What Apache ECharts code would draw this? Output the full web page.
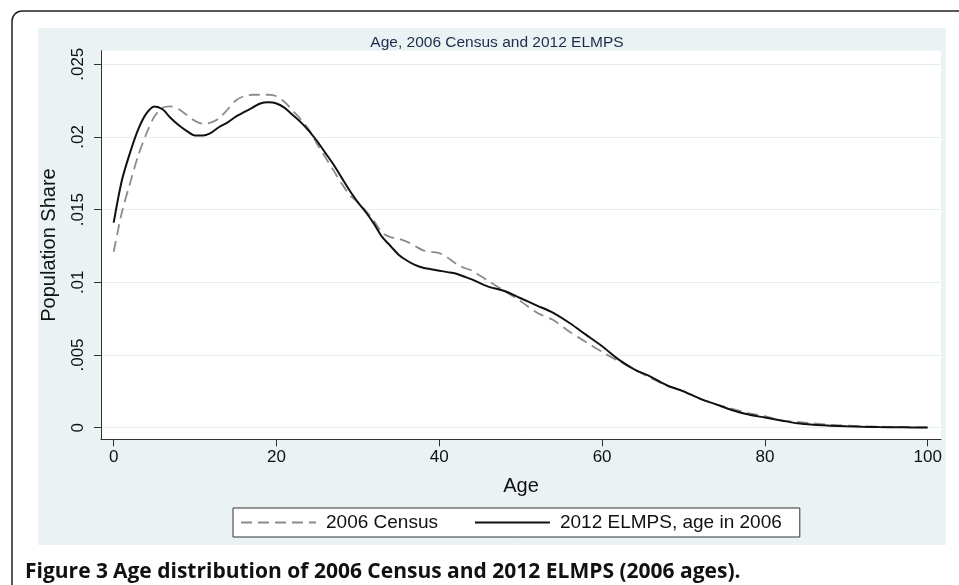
<!DOCTYPE html>
<html>
<head>
<meta charset="utf-8">
<script src="https://cdn.jsdelivr.net/npm/echarts@6/dist/echarts.min.js"></script>
<style>
html,body{margin:0;padding:0;background:#fff;}
#c{width:959px;height:585px;}
</style>
</head>
<body>
<div id="c"></div>
<script>
const ages = [0,1,2,3,4,5,6,7,8,9,10,11,12,13,14,15,16,17,18,19,20,21,22,23,24,25,26,27,28,29,30,31,32,33,34,35,36,37,38,39,40,41,42,43,44,46,48,50,52,54,56,58,60,62,64,66,68,70,72,74,76,78,80,82,84,86,88,90,92,94,96,98,100];
const census = [0.0121,0.0148,0.0168,0.0187,0.0202,0.0214,0.0220,0.0221,0.0219,0.0215,0.0211,0.0209,0.0210,0.0213,0.0219,0.0225,0.0228,0.0229,0.0229,0.0229,0.0228,0.0224,0.0218,0.0212,0.0205,0.0195,0.0186,0.0177,0.0168,0.0160,0.0155,0.0149,0.0142,0.0134,0.0131,0.0130,0.0128,0.0125,0.0122,0.0121,0.0120,0.0117,0.0113,0.0110,0.0108,0.0101,0.0094,0.0087,0.0079,0.0074,0.0066,0.0059,0.0052,0.0046,0.0040,0.0034,0.0029,0.0025,0.0020,0.0016,0.0013,0.0010,0.0008,0.0005,0.0004,0.0003,0.0002,0.00014,0.0001,0.00007,0.00005,0.00003,0.00002];
const elmps = [0.0141,0.0170,0.0189,0.0205,0.0216,0.0221,0.0219,0.0213,0.0208,0.0204,0.0201,0.0201,0.0203,0.0207,0.0210,0.0214,0.0217,0.0220,0.0223,0.02238,0.0223,0.0220,0.0215,0.0210,0.0204,0.0197,0.0189,0.0181,0.0172,0.0163,0.0155,0.0148,0.0140,0.0131,0.0125,0.0119,0.0115,0.0112,0.0110,0.0109,0.0108,0.0107,0.0106,0.0104,0.0102,0.0097,0.0094,0.0089,0.0084,0.0079,0.0072,0.0064,0.0056,0.0047,0.0040,0.0035,0.0029,0.0025,0.0020,0.0016,0.0012,0.0009,0.0007,0.0005,0.0003,0.0002,0.00014,0.00009,0.00006,0.00004,0.00003,0.00002,0.00001];
const xTicks = [0,20,40,60,80,100];
const yTicks = [0,0.005,0.01,0.015,0.02,0.025];
const seriesNames = ['2006 Census','2012 ELMPS, age in 2006'];

const chart = echarts.init(document.getElementById('c'));
const font = 'Liberation Sans, Arial, sans-serif';
chart.setOption({
  animation:false,
  backgroundColor:'#fff',
  graphic:[
    {type:'rect',z:-10,shape:{x:38,y:28,width:908,height:517},style:{fill:'#eaf2f4'},silent:true},
    {type:'rect',z:-10,shape:{x:12,y:11,width:1000,height:700,r:10},style:{fill:'none',stroke:'#222',lineWidth:1.5},silent:true}
  ],
  title:[
    {text:'Age, 2006 Census and 2012 ELMPS',left:492,textAlign:'center',top:30,
     textStyle:{fontFamily:font,fontSize:15.5,fontWeight:'normal',color:'#1c2b4b'}},
    {text:'{b|Figure 3} {n|Age distribution of 2006 Census and 2012 ELMPS (2006 ages).}',left:20,top:557,
     textStyle:{rich:{b:{fontFamily:'Open Sans, sans-serif',fontSize:21,fontWeight:'bold',color:'#111'},
                      n:{fontFamily:'Open Sans, sans-serif',fontSize:21,color:'#111'}}}}
  ],
  grid:{left:101,right:18,top:50.7,bottom:145.7,show:true,backgroundColor:'#fff',borderWidth:0},
  legend:{
    data:seriesNames,left:233,top:508,
    backgroundColor:'#fff',borderColor:'#333',borderWidth:1,borderRadius:0,
    padding:[5,18,5,7],itemWidth:75,itemHeight:18,itemGap:36,
    itemStyle:{color:'transparent',borderColor:'transparent',borderWidth:0},
    textStyle:{fontFamily:font,fontSize:19,color:'#111',padding:[0,0,0,5]}
  },
  xAxis:{
    type:'value',min:-1.56,max:101.63,
    name:'Age',nameLocation:'middle',nameGap:37,
    nameTextStyle:{fontFamily:font,fontSize:20,color:'#111'},
    axisLine:{show:true,onZero:false,lineStyle:{color:'#333',width:1}},
    axisTick:{show:true,length:7,customValues:xTicks,lineStyle:{color:'#333'}},
    axisLabel:{customValues:xTicks,margin:10,fontFamily:font,fontSize:17,color:'#111'},
    splitLine:{show:false}
  },
  yAxis:{
    type:'value',min:-0.0008,max:0.02593,
    name:'Population Share',nameLocation:'middle',nameGap:42,
    nameTextStyle:{fontFamily:font,fontSize:20,color:'#111'},
    axisLine:{show:true,onZero:false,lineStyle:{color:'#333',width:1}},
    axisTick:{show:true,length:7,customValues:yTicks,lineStyle:{color:'#333'}},
    axisLabel:{customValues:yTicks,rotate:90,margin:14,fontFamily:font,fontSize:17,color:'#111',
      formatter:v=>v===0?'0':String(+v.toFixed(4)).replace(/^0/,'')},
    splitLine:{show:true,lineStyle:{color:'#e4eef1',width:1}}
  },
  series:[
    {name:seriesNames[0],type:'line',smooth:0.3,symbol:'none',
     data:ages.map((a,i)=>[a,census[i]]),
     lineStyle:{color:'#8c8c8c',width:1.8,type:[11,6]},itemStyle:{color:'#8c8c8c'},z:2},
    {name:seriesNames[1],type:'line',smooth:0.3,symbol:'none',
     data:ages.map((a,i)=>[a,elmps[i]]),
     lineStyle:{color:'#111',width:2},itemStyle:{color:'#111'},z:3}
  ]
});
</script>
</body>
</html>
